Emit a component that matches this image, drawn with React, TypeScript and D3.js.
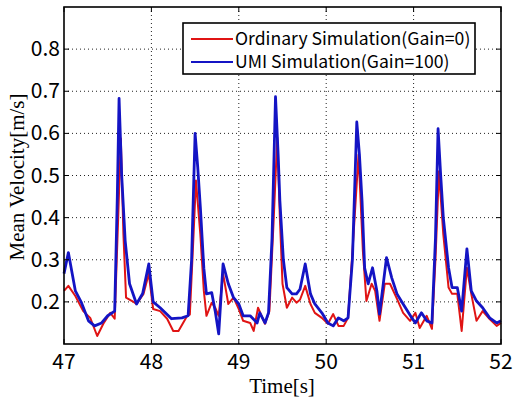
import React from "react";
import * as d3 from "d3";

// Ordinary Simulation (Gain=0)
const redTime = [47.0, 47.05, 47.13, 47.22, 47.3, 47.38, 47.45, 47.53, 47.58, 47.62, 47.65, 47.68, 47.71, 47.78, 47.83, 47.91, 47.97, 48.02, 48.1, 48.18, 48.25, 48.31, 48.41, 48.44, 48.48, 48.51, 48.56, 48.6, 48.63, 48.69, 48.73, 48.77, 48.82, 48.88, 48.94, 49.0, 49.05, 49.13, 49.17, 49.22, 49.3, 49.35, 49.4, 49.44, 49.47, 49.5, 49.55, 49.61, 49.66, 49.7, 49.76, 49.82, 49.87, 49.95, 50.02, 50.08, 50.14, 50.2, 50.25, 50.31, 50.37, 50.42, 50.46, 50.52, 50.56, 50.61, 50.67, 50.73, 50.81, 50.88, 50.96, 51.02, 51.07, 51.15, 51.21, 51.25, 51.29, 51.34, 51.4, 51.44, 51.5, 51.55, 51.61, 51.66, 51.72, 51.79, 51.87, 51.95, 52.0];
const redValue = [0.226, 0.238, 0.214, 0.178, 0.162, 0.119, 0.148, 0.174, 0.16, 0.4, 0.588, 0.36, 0.21, 0.202, 0.195, 0.219, 0.267, 0.183, 0.178, 0.16, 0.131, 0.131, 0.167, 0.17, 0.35, 0.488, 0.36, 0.226, 0.167, 0.198, 0.186, 0.167, 0.267, 0.195, 0.21, 0.183, 0.155, 0.15, 0.131, 0.186, 0.148, 0.178, 0.4, 0.59, 0.4, 0.243, 0.186, 0.21, 0.198, 0.205, 0.238, 0.195, 0.174, 0.162, 0.148, 0.171, 0.143, 0.143, 0.162, 0.35, 0.55, 0.32, 0.202, 0.243, 0.226, 0.155, 0.243, 0.243, 0.207, 0.174, 0.155, 0.174, 0.138, 0.167, 0.136, 0.3, 0.51, 0.36, 0.234, 0.219, 0.219, 0.131, 0.281, 0.219, 0.155, 0.178, 0.159, 0.143, 0.15];

// UMI Simulation (Gain=100)
const blueTime = [47.0, 47.05, 47.13, 47.2, 47.28, 47.35, 47.43, 47.5, 47.58, 47.61, 47.63, 47.66, 47.7, 47.75, 47.83, 47.9, 47.97, 48.02, 48.1, 48.23, 48.35, 48.42, 48.46, 48.5, 48.53, 48.56, 48.6, 48.63, 48.69, 48.73, 48.77, 48.82, 48.88, 48.94, 49.0, 49.05, 49.13, 49.21, 49.24, 49.3, 49.34, 49.38, 49.42, 49.45, 49.47, 49.51, 49.55, 49.61, 49.66, 49.7, 49.76, 49.82, 49.87, 49.95, 50.02, 50.08, 50.14, 50.2, 50.25, 50.3, 50.35, 50.38, 50.41, 50.44, 50.48, 50.53, 50.58, 50.61, 50.69, 50.75, 50.81, 50.88, 50.98, 51.02, 51.09, 51.15, 51.21, 51.25, 51.28, 51.31, 51.34, 51.4, 51.44, 51.5, 51.55, 51.61, 51.66, 51.72, 51.79, 51.87, 51.95, 52.0];
const blueValue = [0.267, 0.317, 0.226, 0.198, 0.155, 0.143, 0.15, 0.167, 0.178, 0.45, 0.683, 0.5, 0.345, 0.243, 0.195, 0.22, 0.29, 0.2, 0.186, 0.16, 0.162, 0.167, 0.3, 0.6, 0.52, 0.425, 0.28, 0.219, 0.222, 0.178, 0.124, 0.29, 0.243, 0.21, 0.195, 0.167, 0.167, 0.15, 0.174, 0.15, 0.174, 0.35, 0.687, 0.55, 0.44, 0.3, 0.234, 0.219, 0.219, 0.23, 0.29, 0.219, 0.195, 0.174, 0.15, 0.143, 0.162, 0.155, 0.162, 0.3, 0.627, 0.55, 0.44, 0.28, 0.243, 0.281, 0.226, 0.171, 0.305, 0.257, 0.219, 0.195, 0.162, 0.15, 0.174, 0.155, 0.15, 0.35, 0.611, 0.5, 0.4, 0.281, 0.234, 0.234, 0.178, 0.326, 0.226, 0.202, 0.186, 0.162, 0.15, 0.155];

const xTicks = [47, 48, 49, 50, 51, 52];
const yTicks = [0.2, 0.3, 0.4, 0.5, 0.6, 0.7, 0.8];
const legendLabels = ["Ordinary Simulation(Gain=0)", "UMI Simulation(Gain=100)"];

const RED = "#e01414";
const BLUE = "#1414c4";

export default function App() {
  const left = 64, right = 501, top = 7, bottom = 344;
  const x = d3.scaleLinear().domain([47, 52]).range([left, right]);
  const y = d3.scaleLinear().domain([0.1, 0.9]).range([bottom, top]);

  const line = d3.line<[number, number]>()
    .x(d => x(d[0]))
    .y(d => y(d[1]));

  const redPts = redTime.map((t, i) => [t, redValue[i]] as [number, number]);
  const bluePts = blueTime.map((t, i) => [t, blueValue[i]] as [number, number]);

  const tickFont = "'Noto Sans CJK JP', 'Liberation Sans', sans-serif";
  const labelFont = "'Liberation Serif', 'DejaVu Serif', serif";

  return (
    <svg width={514} height={398} style={{ position: "absolute", left: 0, top: 0, background: "#fff" }}>
      <rect x={0} y={0} width={514} height={398} fill="#fff" />
      {/* grid */}
      {xTicks.slice(1, -1).map(t => (
        <line key={"gx" + t} x1={x(t)} x2={x(t)} y1={top} y2={bottom}
          stroke="#222" strokeWidth={1} strokeDasharray="1,3" />
      ))}
      {yTicks.map(v => (
        <line key={"gy" + v} x1={left} x2={right} y1={y(v)} y2={y(v)}
          stroke="#222" strokeWidth={1} strokeDasharray="1,3" />
      ))}
      {/* series */}
      <path d={line(redPts) ?? ""} fill="none" stroke={RED} strokeWidth={2} strokeLinejoin="round" />
      <path d={line(bluePts) ?? ""} fill="none" stroke={BLUE} strokeWidth={2.8} strokeLinejoin="round" />
      {/* ticks */}
      {xTicks.map(t => (
        <g key={"tx" + t}>
          <line x1={x(t)} x2={x(t)} y1={bottom} y2={bottom - 5} stroke="#000" strokeWidth={1} />
          <line x1={x(t)} x2={x(t)} y1={top} y2={top + 5} stroke="#000" strokeWidth={1} />
          <text x={x(t)} y={369} textAnchor="middle" fontFamily={tickFont} fontSize={21} fill="#000">{t}</text>
        </g>
      ))}
      {yTicks.map(v => (
        <g key={"ty" + v}>
          <line x1={left} x2={left + 5} y1={y(v)} y2={y(v)} stroke="#000" strokeWidth={1} />
          <line x1={right} x2={right - 5} y1={y(v)} y2={y(v)} stroke="#000" strokeWidth={1} />
          <text x={60} y={y(v) + 7} textAnchor="end" fontFamily={tickFont} fontSize={21} fill="#000">{v.toFixed(1)}</text>
        </g>
      ))}
      {/* frame */}
      <rect x={left} y={top} width={right - left} height={bottom - top} fill="none" stroke="#000" strokeWidth={1.6} />
      {/* legend */}
      <rect x={183} y={23} width={292} height={51} fill="#fff" stroke="#000" strokeWidth={1.6} />
      {legendLabels.map((lab, i) => (
        <g key={lab}>
          <line x1={191} x2={233} y1={39 + i * 23} y2={39 + i * 23} stroke={i === 0 ? RED : BLUE} strokeWidth={2} />
          <text x={235} y={45 + i * 23} fontFamily={tickFont} fontSize={17.6} fill="#000">{lab}</text>
        </g>
      ))}
      {/* axis labels */}
      <text x={282} y={393} textAnchor="middle" fontFamily={labelFont} fontSize={21} fill="#000">Time[s]</text>
      <text transform={`translate(24,177) rotate(-90)`} textAnchor="middle" fontFamily={labelFont} fontSize={21} fill="#000">Mean Velocity[m/s]</text>
    </svg>
  );
}
